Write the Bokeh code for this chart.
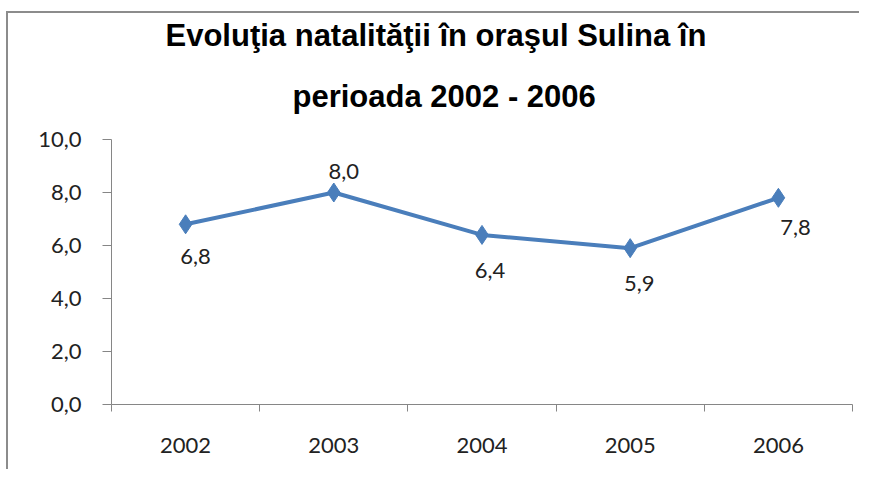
from bokeh.plotting import figure
from bokeh.models import ColumnDataSource, Range1d, FixedTicker, Title
from bokeh.core.properties import value
from bokeh.embed import file_html
from bokeh.resources import INLINE

years = ["2002", "2003", "2004", "2005", "2006"]
rates = [6.8, 8.0, 6.4, 5.9, 7.8]
rate_labels = ["6,8", "8,0", "6,4", "5,9", "7,8"]
y_ticks = [0, 2, 4, 6, 8, 10]
y_tick_labels = ["0,0", "2,0", "4,0", "6,0", "8,0", "10,0"]
title_lines = ["Evoluţia natalităţii în oraşul Sulina în", "perioada 2002 - 2006"]

# label placement (style)
lab_dx = [10, 10, 8, 9, 17]
lab_dy = [-32, 21, -36, -35, -30]
title_offsets = [54, 181]
title_standoffs = [-4, 52]

xs = [i + 0.5 for i in range(len(years))]
src = ColumnDataSource(dict(x=xs, y=rates, lab=rate_labels, dx=lab_dx, dy=[-d for d in lab_dy]))

p = figure(width=853, height=458, output_backend="svg", toolbar_location=None,
           x_range=Range1d(0, len(years)), y_range=Range1d(0, 10),
           min_border_left=103, min_border_right=9, min_border_top=126, min_border_bottom=67,
           background_fill_color="#ffffff", border_fill_color="#ffffff")
p.outline_line_color = None
p.grid.grid_line_color = None

for line, off, so in reversed(list(zip(title_lines, title_offsets, title_standoffs))):
    t = Title(text=line, align="left", text_font="Liberation Sans", offset=off,
              standoff=so, text_font_size="31px", text_font_style="bold", text_color="#000000")
    p.add_layout(t, "above")

p.line("x", "y", source=src, line_color="#4a7ebb", line_width=4)
p.scatter("x", "y", source=src, marker="diamond", size=19, fill_color="#4a7ebb", line_color="#4a7ebb")
p.text("x", "y", text="lab", source=src, x_offset="dx", y_offset="dy",
       text_align="center", text_baseline="middle", text_font=value("Lato"),
       text_font_size="22px", text_color="#222222")

p.yaxis.ticker = FixedTicker(ticks=y_ticks)
p.yaxis.major_label_overrides = {t: l for t, l in zip(y_ticks, y_tick_labels)}
p.yaxis.major_tick_out = 9
p.yaxis.major_tick_in = 0
p.yaxis.minor_tick_line_color = None
p.yaxis.major_label_standoff = 21
p.yaxis.axis_line_color = "#868686"
p.yaxis.major_tick_line_color = "#868686"
p.yaxis.major_label_text_font = "Lato"
p.yaxis.major_label_text_font_size = "22px"
p.yaxis.major_label_text_color = "#222222"

p.xaxis.ticker = FixedTicker(ticks=xs, minor_ticks=list(range(len(years) + 1)))
p.xaxis.major_label_overrides = {x: y for x, y in zip(xs, years)}
p.xaxis.major_tick_out = 0
p.xaxis.major_tick_in = 0
p.xaxis.minor_tick_out = 7
p.xaxis.minor_tick_in = 0
p.xaxis.minor_tick_line_color = "#868686"
p.xaxis.axis_line_color = "#868686"
p.xaxis.major_label_standoff = 26
p.xaxis.major_label_text_font = "Lato"
p.xaxis.major_label_text_font_size = "22px"
p.xaxis.major_label_text_color = "#222222"

p.styles = {"border-left": "2px solid #8c8c8c", "border-top": "2px solid #8c8c8c",
            "margin-left": "6px", "margin-top": "11px"}

open("out.html", "w").write(file_html(p, INLINE))
